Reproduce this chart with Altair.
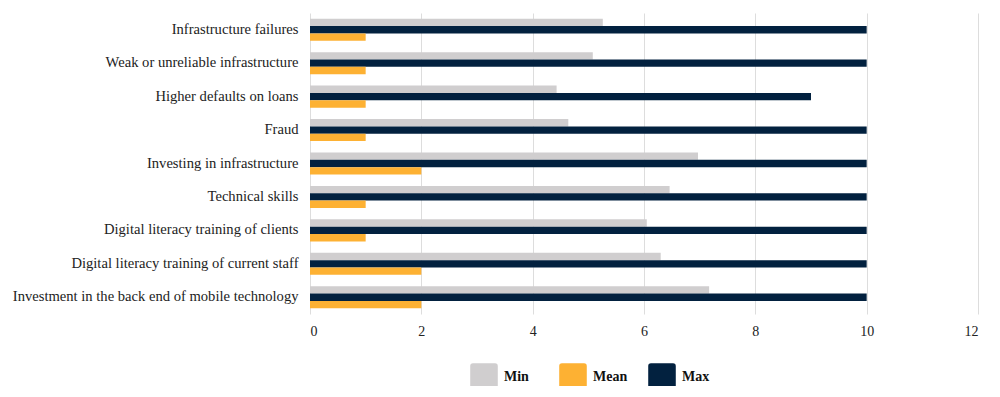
import altair as alt
import pandas as pd

categories = [
    "Infrastructure failures",
    "Weak or unreliable infrastructure",
    "Higher defaults on loans",
    "Fraud",
    "Investing in infrastructure",
    "Technical skills",
    "Digital literacy training of clients",
    "Digital literacy training of current staff",
    "Investment in the back end of mobile technology",
]
min_vals = [5.26, 5.08, 4.43, 4.64, 6.97, 6.46, 6.05, 6.30, 7.17]
mean_vals = [1, 1, 1, 1, 2, 1, 1, 2, 2]
max_vals = [10, 10, 9, 10, 10, 10, 10, 10, 10]

series = ["Min", "Mean", "Max"]
bar_order = ["Min", "Max", "Mean"]
colors = ["#D0CECF", "#FDB133", "#02213F"]
x_ticks = [0, 2, 4, 6, 8, 10, 12]

rows = []
for c, a, m, b in zip(categories, min_vals, mean_vals, max_vals):
    rows.append({"cat": c, "series": "Min", "value": a})
    rows.append({"cat": c, "series": "Max", "value": b})
    rows.append({"cat": c, "series": "Mean", "value": m})
df = pd.DataFrame(rows)

font = "Liberation Serif"
rounded_square = "M-0.8,-1 L0.8,-1 Q1,-1 1,-0.8 L1,0.8 Q1,1 0.8,1 L-0.8,1 Q-1,1 -1,0.8 L-1,-0.8 Q-1,-1 -0.8,-1 Z"

chart = alt.Chart(df).mark_bar().encode(
    x=alt.X(
        "value:Q",
        scale=alt.Scale(domain=[0, 12], nice=False),
        axis=alt.Axis(
            values=x_ticks, title=None, domain=False, ticks=False,
            gridColor="#DDDDDD", labelPadding=10, labelFont=font,
            labelFontSize=14, labelColor="#222222",
        ),
    ),
    y=alt.Y(
        "cat:N",
        sort=categories,
        scale=alt.Scale(paddingInner=0.34, paddingOuter=0.17),
        axis=alt.Axis(
            title=None, domain=False, ticks=False, grid=False,
            labelPadding=12, labelFont=font, labelFontSize=14.6,
            labelColor="#222222", labelLimit=400,
        ),
    ),
    yOffset=alt.YOffset("series:N", sort=bar_order,
                        scale=alt.Scale(paddingInner=0, paddingOuter=0)),
    color=alt.Color(
        "series:N",
        scale=alt.Scale(domain=series, range=colors),
        legend=alt.Legend(
            title=None, orient="none", legendX=160, legendY=350,
            direction="horizontal",
            columns=3, gridAlign="all", columnPadding=20,
            symbolType=rounded_square, symbolSize=760, symbolStrokeWidth=0,
            labelFont=font, labelFontSize=14, labelFontWeight="bold",
            labelColor="#111111", labelOffset=6,
        ),
    ),
).properties(
    width=668,
    height=301,
    autosize=alt.AutoSizeParams(type="none"),
    padding={"left": 302, "top": 5, "right": 14, "bottom": 72},
).configure_view(stroke=None)

chart.save("out.html", embed_options={"renderer": "svg", "actions": False})
